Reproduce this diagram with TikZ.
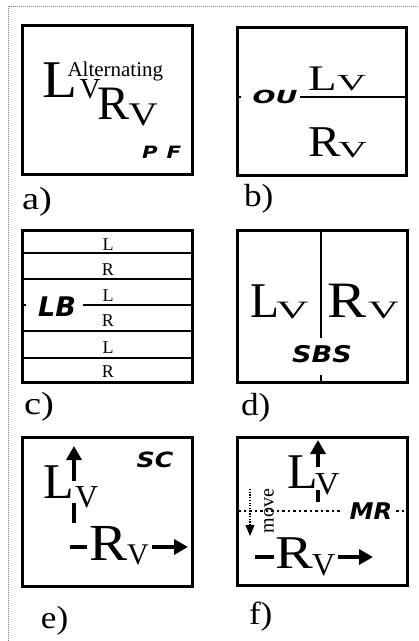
\documentclass[tikz,border=0pt]{standalone}
\usepackage{fontspec}
\usepackage{graphicx}
\setmainfont{Liberation Serif}
\newfontfamily\labf{DejaVu Sans}[ItalicFont={DejaVu Sans Oblique},BoldFont={DejaVu Sans Bold},BoldItalicFont={DejaVu Sans Bold Oblique}]
\usetikzlibrary{arrows.meta}
\newcommand\tx[3]{{\fontsize{#1}{#1}\selectfont\scalebox{#2}[1]{#3}}}
\newcommand\lb[3]{{\labf\bfseries\itshape\fontsize{#1}{#1}\selectfont\scalebox{#2}[1]{#3}}}
\newcommand\putat[3]{\rlap{\hspace{#1}\raisebox{#2}{#3}}}
\tikzset{
  T/.style={inner sep=0pt, outer sep=0pt, anchor=base west},
  TB/.style={inner sep=0pt, outer sep=0pt, anchor=base},
  frame/.style={line width=3pt},
  divider/.style={line width=2.5pt},
  bigarrow/.style={line width=4pt, -{Triangle[length=14pt,width=15pt]}},
  tick/.style={line width=4pt},
  dots/.style={line width=2.5pt, dash pattern=on 2.5pt off 3pt},
  outer/.style={gray, line width=0.7pt, dash pattern=on 0.8pt off 1.2pt}
}
\begin{document}
\begin{tikzpicture}[x=1pt,y=-1pt]
\useasboundingbox (0,0) rectangle (419,641);
% outer dotted frame
\draw[outer] (8,641) -- (8,6) -- (419,6);

% ---------- a)
\draw[frame] (22,25) rectangle (192,174);
\node[T] (aText) at (42,97) {%
  \putat{0pt}{0pt}{\tx{53}{1.08}{L}}%
  \putat{37pt}{-1pt}{\tx{29}{1}{V}}%
  \putat{25pt}{21pt}{\tx{21}{1}{Alternating}}%
  \putat{55pt}{-22pt}{\tx{48}{1}{R}}%
  \putat{86pt}{-28pt}{\tx{33}{1.22}{V}}%
  \hspace{118pt}};
\node[TB] (aP) at (150,158) {\lb{17}{1.25}{P}};
\node[TB] (aF) at (174,158) {\lb{17}{1.25}{F}};
\node[T] (la) at (22,209) {\tx{32}{1.2}{a)}};

% ---------- b)
\draw[frame] (237,27) rectangle (406,175);
\draw[divider] (237,97) -- (241,97);
\draw[divider] (300,97) -- (406,97);
\node[TB] (bOU) at (275,103.5) {\lb{18}{1.5}{OU}};
\node[T] (bL) at (308,90) {\tx{36}{1.3}{L}};
\node[T] (bV1) at (337,90) {\tx{23}{1.75}{V}};
\node[T] (bR) at (308,156) {\tx{44}{1.1}{R}};
\node[T] (bV2) at (338,157) {\tx{23}{1.75}{V}};
\node[T] (lb) at (244,206) {\tx{32}{1.1}{b)}};

% ---------- c)
\draw[frame] (22,230) rectangle (192,382);
\draw[divider] (22,253) -- (192,253);
\draw[divider] (22,279) -- (192,279);
\draw[divider] (22,305) -- (26,305);
\draw[divider] (83,305) -- (192,305);
\draw[divider] (22,331) -- (192,331);
\draw[divider] (22,358) -- (192,358);
\node[TB] (cLB) at (57,316) {\lb{27}{1}{LB}};
\node[TB] (c1) at (108,250) {\tx{18}{1}{L}};
\node[TB] (c2) at (108,275) {\tx{18}{1}{R}};
\node[TB] (c3) at (108,301) {\tx{18}{1}{L}};
\node[TB] (c4) at (108,326) {\tx{18}{1}{R}};
\node[TB] (c5) at (108,353) {\tx{18}{1}{L}};
\node[TB] (c6) at (108,377) {\tx{18}{1}{R}};
\node[T] (lc) at (24,414) {\tx{32}{1.2}{c)}};

% ---------- d)
\draw[frame] (237,230) rectangle (407,382);
\draw[line width=2pt] (321,230) -- (321,338);
\draw[line width=2pt] (321,375) -- (321,382);
\node[T] (dL) at (250,317) {\tx{50}{0.95}{L}};
\node[T] (dV1) at (276,318) {\tx{25}{1.8}{V}};
\node[T] (dR) at (327,317) {\tx{51}{1.15}{R}};
\node[T] (dV2) at (368,318) {\tx{25}{1.7}{V}};
\node[TB] (dSBS) at (322,362) {\lb{23}{1.18}{SBS}};
\node[T] (ld) at (241,415) {\tx{32}{1.1}{d)}};

% ---------- e)
\draw[frame] (22,437) rectangle (192,586);
\node[T] (eL) at (43,498) {\tx{50}{1}{L}};
\node[T] (eV) at (75,507) {\tx{32}{1}{V}};
\coordinate (eU0) at (74,481);
\coordinate (eU1) at (74,446);
\draw[bigarrow] (eU0) -- (eU1);
\draw[tick] (74,503) -- (74,523);
\node[TB] (eSC) at (155,467) {\lb{21}{1.2}{SC}};
\draw[tick] (70,547) -- (87,547);
\node[T] (eR) at (89,560) {\tx{52}{1.1}{R}};
\node[T] (eV2) at (127,564) {\tx{30}{1}{V}};
\coordinate (eA0) at (152,547);
\coordinate (eA1) at (188,547);
\draw[bigarrow] (eA0) -- (eA1);
\node[T] (le) at (41,628) {\tx{32}{1.1}{e)}};

% ---------- f)
\draw[frame] (237,437) rectangle (407,585);
\node[T] (fL) at (287,488) {\tx{50}{1}{L}};
\node[T] (fV) at (315,494) {\tx{32}{1.05}{V}};
\coordinate (fU0) at (318,467);
\coordinate (fU1) at (318,440);
\draw[bigarrow] (fU0) -- (fU1);
\draw[tick] (318,490) -- (318,502);
\draw[dots] (238,511) -- (340,511);
\draw[dots] (396,511) -- (407,511);
\node[TB] (fMR) at (371,519) {\lb{23}{1.05}{MR}};
\coordinate (fD0) at (250,489);
\coordinate (fD1) at (250,536);
\draw[line width=1.2pt, dash pattern=on 1.2pt off 1.5pt, -{Triangle[length=11pt,width=9pt]}] (fD0) -- (fD1);
\node[inner sep=0pt, rotate=90] (fmove) at (269,511) {\tx{20}{1}{move}};
\draw[tick] (255,557) -- (274,557);
\node[T] (fR) at (275,568) {\tx{47}{1.2}{R}};
\node[T] (fV2) at (312,575) {\tx{32}{1}{V}};
\coordinate (fA0) at (338,557);
\coordinate (fA1) at (373,557);
\draw[bigarrow] (fA0) -- (fA1);
\node[T] (lf) at (249,624) {\tx{32}{1.1}{f)}};
\end{tikzpicture}
\end{document}
